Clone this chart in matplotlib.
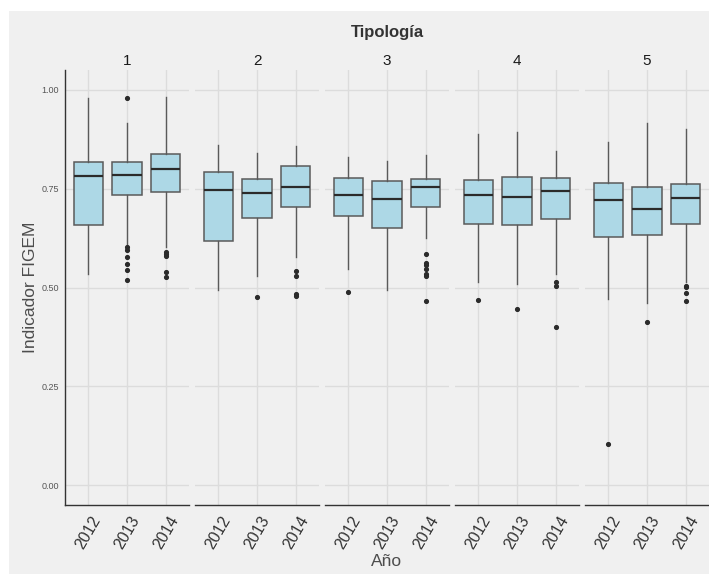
import matplotlib
matplotlib.use("Agg")
import matplotlib.pyplot as plt
from matplotlib.patches import Rectangle

plt.rcParams['font.family'] = ['Liberation Sans', 'DejaVu Sans']

# datos (por tipología, años 2012, 2013, 2014)
tipologias = ['1', '2', '3', '4', '5']
anios = ['2012', '2013', '2014']

bigote_inf = [
    [0.535, 0.605, 0.603],
    [0.494, 0.530, 0.578],
    [0.546, 0.494, 0.624],
    [0.515, 0.508, 0.535],
    [0.472, 0.462, 0.514],
]
q1 = [
    [0.657, 0.733, 0.741],
    [0.617, 0.675, 0.704],
    [0.680, 0.650, 0.704],
    [0.660, 0.657, 0.672],
    [0.628, 0.632, 0.661],
]
mediana = [
    [0.782, 0.784, 0.799],
    [0.747, 0.740, 0.754],
    [0.733, 0.725, 0.753],
    [0.735, 0.728, 0.743],
    [0.721, 0.698, 0.727],
]
q3 = [
    [0.817, 0.817, 0.837],
    [0.791, 0.774, 0.807],
    [0.776, 0.769, 0.774],
    [0.773, 0.779, 0.776],
    [0.764, 0.755, 0.762],
]
bigote_sup = [
    [0.979, 0.916, 0.982],
    [0.861, 0.840, 0.857],
    [0.830, 0.820, 0.834],
    [0.888, 0.894, 0.844],
    [0.868, 0.916, 0.901],
]
atipicos = [
    [[], [0.978, 0.603, 0.595, 0.577, 0.559, 0.545, 0.519], [0.589, 0.584, 0.579, 0.540, 0.526]],
    [[], [0.475], [0.541, 0.528, 0.483, 0.479]],
    [[0.488], [], [0.584, 0.561, 0.557, 0.546, 0.534, 0.529, 0.465]],
    [[0.468], [0.445], [0.513, 0.503, 0.400]],
    [[0.105], [0.412], [0.505, 0.502, 0.485, 0.467]],
]

W, H = 709, 575
fig = plt.figure(figsize=(W / 100, H / 100), dpi=100)
fig.patches.append(Rectangle((9 / W, 1 / H), 1, (H - 12) / H, transform=fig.transFigure,
                             facecolor='#F0F0F0', edgecolor='none', zorder=-10))

gris_borde = '#5a5a5a'
for i, tip in enumerate(tipologias):
    left = 65 + 130 * i
    ax = fig.add_axes([left / W, 70 / H, 124 / W, 435 / H])
    ax.set_facecolor('#F0F0F0')

    stats = []
    for j in range(3):
        stats.append({
            'whislo': bigote_inf[i][j], 'q1': q1[i][j], 'med': mediana[i][j],
            'q3': q3[i][j], 'whishi': bigote_sup[i][j], 'fliers': atipicos[i][j],
        })
    ax.bxp(stats, positions=[1, 2, 3], widths=0.75, patch_artist=True, showcaps=False,
           boxprops=dict(facecolor='#ADD8E6', edgecolor=gris_borde, linewidth=1.1),
           whiskerprops=dict(color=gris_borde, linewidth=1),
           medianprops=dict(color='#2b2b2b', linewidth=1.6),
           flierprops=dict(marker='o', markerfacecolor='#2b2b2b', markeredgecolor='#2b2b2b',
                           markersize=2.7, linestyle='none'))

    ax.set_xlim(0.4, 3.6)
    ax.set_ylim(-0.05, 1.05)
    ax.set_xticks([1, 2, 3])
    ax.set_xticklabels(anios, rotation=60, ha='center', va='top', fontsize=11.5, color='#333333')
    ax.set_yticks([0, 0.25, 0.5, 0.75, 1.0])
    ax.grid(True, color='#DCDCDC', linewidth=1)
    ax.set_axisbelow(True)
    ax.tick_params(length=0)
    ax.tick_params(axis='x', pad=6)
    ax.tick_params(axis='y', pad=4.5)

    for s in ['top', 'right']:
        ax.spines[s].set_visible(False)
    ax.spines['bottom'].set_color('#333333')
    ax.spines['bottom'].set_linewidth(1)
    if i == 0:
        ax.spines['left'].set_color('#333333')
        ax.spines['left'].set_linewidth(1)
        ax.set_yticklabels(['0.00', '0.25', '0.50', '0.75', '1.00'], fontsize=6.5, color='#555555')
    else:
        ax.spines['left'].set_visible(False)
        ax.set_yticklabels([])

    ax.text(0.5, 1 + 9 / 435, tip, transform=ax.transAxes, ha='center', va='center',
            fontsize=11, color='#1a1a1a')

fig.text(387 / W, 1 - 33 / H, 'Tipología', ha='center', va='center',
         fontsize=12, fontweight='bold', color='#333333')
fig.text(387 / W, 1 - 561 / H, 'Año', ha='center', va='center', fontsize=12.5, color='#4d4d4d')
fig.text(31 / W, 1 - 287 / H, 'Indicador FIGEM', ha='center', va='center', rotation=90,
         fontsize=12.5, color='#4d4d4d')

fig.savefig('out.png', dpi=100)
